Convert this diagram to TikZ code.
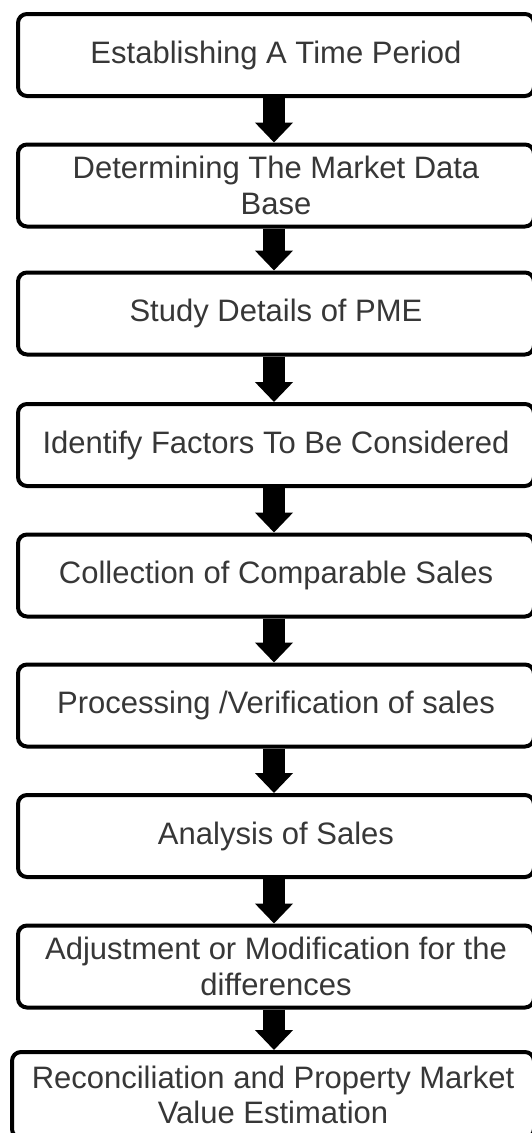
\documentclass[tikz,border=0pt]{standalone}
\usepackage{fontspec}
\setmainfont{Liberation Sans}
\usetikzlibrary{arrows.meta}
\definecolor{txtgray}{RGB}{55,55,55}
\tikzset{
  stepbox/.style={draw=black, line width=4pt, rounded corners=9pt, fill=white,
    minimum width=516pt, minimum height=82pt, inner sep=0pt, align=center,
    text=txtgray, font=\fontsize{31}{35.6}\selectfont},
  flowarrow/.style={draw=black, line width=22pt, -{Triangle[width=37pt,length=20pt]}}
}
\begin{document}
\begin{tikzpicture}[x=1pt,y=-1pt]
\useasboundingbox (0,0) rectangle (532,1133);
\clip (0,0) rectangle (532,1133);
\node[stepbox] (b1) at (276,55) {Establishing A Time Period};
\node[stepbox] (b2) at (276,185.5) {Determining The Market Data\\Base};
\node[stepbox] (b3) at (276,313.5) {Study Details of PME};
\node[stepbox] (b4) at (276,445) {Identify Factors To Be Considered};
\node[stepbox] (b5) at (276,575.5) {Collection of Comparable Sales};
\node[stepbox] (b6) at (276,705.5) {Processing /Verification of sales};
\node[stepbox] (b7) at (276,836) {Analysis of Sales};
\node[stepbox] (b8) at (276,966.5) {Adjustment or Modification for the\\differences};
\node[stepbox, minimum width=522pt, minimum height=86pt] (b9) at (273,1095) {Reconciliation and Property Market\\Value Estimation};
\foreach \a/\b in {b1/b2,b2/b3,b3/b4,b4/b5,b5/b6,b6/b7,b7/b8,b8/b9}
  \draw[flowarrow] ([xshift=-2pt]\a.south) -- ([xshift=-2pt]\a.south |- \b.north);
\end{tikzpicture}
\end{document}
